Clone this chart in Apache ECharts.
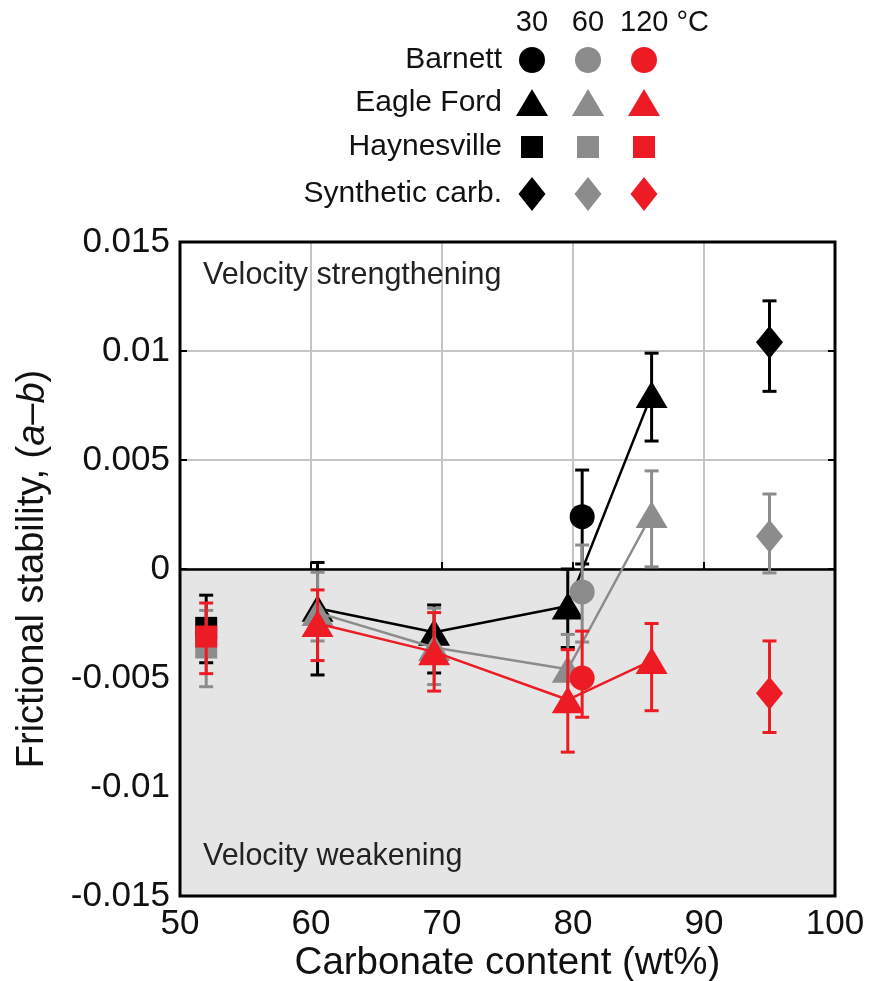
<!DOCTYPE html>
<html>
<head>
<meta charset="utf-8">
<script src="https://cdn.jsdelivr.net/npm/echarts@6/dist/echarts.min.js"></script>
<style>
html,body{margin:0;padding:0;background:#fff;}
#chart{width:869px;height:981px;}
</style>
</head>
<body>
<div id="chart"></div>
<script>
// ---------------- DATA ----------------
const tempLabels = ['30', '60', '120 °C'];
const rockNames = ['Barnett', 'Eagle Ford', 'Haynesville', 'Synthetic carb.'];
const xTickLabels = ['50', '60', '70', '80', '90', '100'];
const yTickLabels = ['-0.015', '-0.01', '-0.005', '0', '0.005', '0.01', '0.015'];

// Barnett
const barnettX = [80.7];
const barnett30 = [0.0024],   barnett30Lo = [0.00023],  barnett30Hi = [0.00454];
const barnett60 = [-0.00105], barnett60Lo = [-0.00335], barnett60Hi = [0.0011];
const barnett120 = [-0.0050], barnett120Lo = [-0.0068], barnett120Hi = [-0.00285];

// Eagle Ford
const eagleFordX = [60.5, 69.4, 79.6, 86.0];
const eagleFord30 = [-0.0018, -0.0029, -0.0017, 0.0080];
const eagleFord30Lo = [-0.00486, -0.00477, -0.0036, 0.00587];
const eagleFord30Hi = [0.0003, -0.00165, 0.0000, 0.0099];
const eagleFord60 = [-0.0020, -0.0036, -0.0046, 0.0025];
const eagleFord60Lo = [-0.0033, -0.0053, -0.0062, 0.0001];
const eagleFord60Hi = [-0.00015, -0.0018, -0.0030, 0.0045];
const eagleFord120 = [-0.0025, -0.0038, -0.0060, -0.0042];
const eagleFord120Lo = [-0.0042, -0.0056, -0.0084, -0.0065];
const eagleFord120Hi = [-0.00096, -0.0020, -0.0037, -0.0025];

// Haynesville
const haynesvilleX = [52.0];
const haynesville30 = [-0.0027],  haynesville30Lo = [-0.0043],  haynesville30Hi = [-0.0012];
const haynesville60 = [-0.0036],  haynesville60Lo = [-0.0054],  haynesville60Hi = [-0.0019];
const haynesville120 = [-0.0031], haynesville120Lo = [-0.0048], haynesville120Hi = [-0.00156];

// Synthetic carbonate
const syntheticX = [95.0];
const synthetic30 = [0.0104],   synthetic30Lo = [0.00815], synthetic30Hi = [0.0123];
const synthetic60 = [0.0015],   synthetic60Lo = [-0.00018], synthetic60Hi = [0.00344];
const synthetic120 = [-0.0057], synthetic120Lo = [-0.0075], synthetic120Hi = [-0.0033];

// ---------------- STYLE ----------------
const FONT = "'Liberation Sans', Arial, Helvetica, sans-serif";
const colors = ['#000000', '#8c8c8c', '#ed1c24'];

function pts(xs, ys, lo, hi) {
  return xs.map((x, i) => [x, ys[i], lo[i], hi[i]]);
}

const groups = [
  { rock: 'Barnett', symbol: 'circle', size: 25, line: false,
    sets: [pts(barnettX, barnett30, barnett30Lo, barnett30Hi),
           pts(barnettX, barnett60, barnett60Lo, barnett60Hi),
           pts(barnettX, barnett120, barnett120Lo, barnett120Hi)] },
  { rock: 'Eagle Ford', symbol: 'triangle', size: [32, 27], line: true,
    sets: [pts(eagleFordX, eagleFord30, eagleFord30Lo, eagleFord30Hi),
           pts(eagleFordX, eagleFord60, eagleFord60Lo, eagleFord60Hi),
           pts(eagleFordX, eagleFord120, eagleFord120Lo, eagleFord120Hi)] },
  { rock: 'Haynesville', symbol: 'rect', size: 22, line: false,
    sets: [pts(haynesvilleX, haynesville30, haynesville30Lo, haynesville30Hi),
           pts(haynesvilleX, haynesville60, haynesville60Lo, haynesville60Hi),
           pts(haynesvilleX, haynesville120, haynesville120Lo, haynesville120Hi)] },
  { rock: 'Synthetic carb.', symbol: 'diamond', size: [27, 33], line: false,
    sets: [pts(syntheticX, synthetic30, synthetic30Lo, synthetic30Hi),
           pts(syntheticX, synthetic60, synthetic60Lo, synthetic60Hi),
           pts(syntheticX, synthetic120, synthetic120Lo, synthetic120Hi)] }
];

function errRender(color) {
  return function (params, api) {
    const x = api.value(0), lo = api.value(2), hi = api.value(3);
    const p1 = api.coord([x, hi]), p2 = api.coord([x, lo]);
    const hw = 7;
    const st = { stroke: color, lineWidth: 3 };
    return {
      type: 'group',
      children: [
        { type: 'line', shape: { x1: p1[0], y1: p1[1], x2: p2[0], y2: p2[1] }, style: st },
        { type: 'line', shape: { x1: p1[0] - hw, y1: p1[1], x2: p1[0] + hw, y2: p1[1] }, style: st },
        { type: 'line', shape: { x1: p2[0] - hw, y1: p2[1], x2: p2[0] + hw, y2: p2[1] }, style: st }
      ]
    };
  };
}

const series = [];
// background shading + zero line
series.push({
  type: 'line', data: [], z: -1, silent: true,
  markArea: {
    silent: true,
    itemStyle: { color: '#e5e5e5' },
    data: [[{ yAxis: -0.015, xAxis: 50 }, { yAxis: 0, xAxis: 100 }]]
  }
});
series.push({
  type: 'line', data: [], z: 2, silent: true,
  markLine: {
    silent: true, symbol: 'none', label: { show: false },
    lineStyle: { color: '#000', width: 2.5, type: 'solid' },
    data: [{ yAxis: 0 }]
  }
});

for (let t = 0; t < 3; t++) {
  const baseZ = 3 + t * 3;
  groups.forEach(g => {
    const d = g.sets[t];
    if (g.line) {
      series.push({
        type: 'line', data: d.map(p => [p[0], p[1]]), z: baseZ, showSymbol: false,
        lineStyle: { color: colors[t], width: 2.5 }, silent: true, animation: false
      });
    }
    series.push({
      type: 'custom', data: d, z: baseZ + 1, renderItem: errRender(colors[t]),
      encode: { x: 0, y: [1, 2, 3] }, silent: true, animation: false
    });
    series.push({
      type: 'scatter', data: d.map(p => [p[0], p[1]]), z: baseZ + 2,
      symbol: g.symbol, symbolSize: g.size,
      itemStyle: { color: colors[t], opacity: 1 }, silent: true, animation: false
    });
  });
}

// ---------------- LEGEND (graphic) ----------------
const legendColX = [532, 588, 644];
const legendRowY = [60, 103, 147, 194];
const graphic = [];
tempLabels.forEach((t, i) => {
  graphic.push({
    type: 'text', x: i < 2 ? legendColX[i] : 620, y: 23,
    style: { text: t, font: "29px " + FONT, fill: '#111',
      textAlign: i < 2 ? 'center' : 'left', textVerticalAlign: 'middle' }
  });
});
rockNames.forEach((r, j) => {
  graphic.push({
    type: 'text', x: 502, y: legendRowY[j],
    style: { text: r, font: "30px " + FONT, fill: '#111', textAlign: 'right', textVerticalAlign: 'middle' }
  });
  legendColX.forEach((cx, i) => {
    const cy = legendRowY[j], c = colors[i];
    if (j === 0) graphic.push({ type: 'circle', shape: { cx: cx, cy: cy, r: 13 }, style: { fill: c } });
    if (j === 1) graphic.push({ type: 'polygon', shape: { points: [[cx, cy - 14], [cx + 16, cy + 13], [cx - 16, cy + 13]] }, style: { fill: c } });
    if (j === 2) graphic.push({ type: 'rect', shape: { x: cx - 11, y: cy - 11, width: 22, height: 22 }, style: { fill: c } });
    if (j === 3) graphic.push({ type: 'polygon', shape: { points: [[cx, cy - 17], [cx + 13.5, cy], [cx, cy + 17], [cx - 13.5, cy]] }, style: { fill: c } });
  });
});
graphic.push({
  type: 'text', x: 203, y: 276,
  style: { text: 'Velocity strengthening', font: "30.5px " + FONT, fill: '#222', textVerticalAlign: 'middle' }, z: 100
});
graphic.push({
  type: 'text', x: 203, y: 857,
  style: { text: 'Velocity weakening', font: "30.5px " + FONT, fill: '#222', textVerticalAlign: 'middle' }, z: 100
});

function yFmt(v) {
  const r = Math.round(v * 1000) / 1000;
  const idx = Math.round((r + 0.015) / 0.005);
  return yTickLabels[idx] !== undefined ? yTickLabels[idx] : String(r);
}
function xFmt(v) {
  const idx = Math.round((v - 50) / 10);
  return xTickLabels[idx] !== undefined ? xTickLabels[idx] : String(v);
}

const splitStyle = { show: true, lineStyle: { color: '#c4c4c4', width: 2 } };
const tickStyle = { show: true, inside: true, length: 7, lineStyle: { color: '#000', width: 2 } };

const option = {
  backgroundColor: '#ffffff',
  animation: false,
  textStyle: { fontFamily: FONT },
  grid: { left: 180, right: 34, top: 242, bottom: 85, containLabel: false, outerBoundsMode: 'none',
    show: true, borderColor: '#000', borderWidth: 3, backgroundColor: 'transparent', z: 50 },
  xAxis: [{
    type: 'value', min: 50, max: 100, interval: 10,
    axisLine: { show: false },
    axisTick: tickStyle,
    splitLine: splitStyle,
    axisLabel: { formatter: xFmt, fontSize: 35, color: '#111', margin: 11, fontFamily: FONT },
    name: 'Carbonate content (wt%)', nameLocation: 'middle', nameGap: 48, nameMoveOverlap: false,
    nameTextStyle: { fontSize: 38.5, color: '#111', fontFamily: FONT }
  }, {
    type: 'value', min: 50, max: 100, interval: 10, position: 'top',
    axisLine: { show: false }, axisTick: tickStyle, splitLine: { show: false }, axisLabel: { show: false }
  }],
  yAxis: [{
    type: 'value', min: -0.015, max: 0.015, interval: 0.005,
    axisLine: { show: false },
    axisTick: tickStyle,
    splitLine: splitStyle,
    axisLabel: { formatter: yFmt, fontSize: 35, color: '#111', margin: 10, fontFamily: FONT },
    name: '{n|Frictional stability, (}{i|a}{n|–}{i|b}{n|)}', nameLocation: 'middle', nameGap: 128, nameMoveOverlap: false,
    nameTextStyle: {
      fontSize: 38, color: '#111', fontFamily: FONT,
      rich: {
        n: { fontSize: 38, color: '#111', fontFamily: FONT },
        i: { fontSize: 38, color: '#111', fontFamily: FONT, fontStyle: 'italic' }
      }
    }
  }, {
    type: 'value', min: -0.015, max: 0.015, interval: 0.005, position: 'right',
    axisLine: { show: false }, axisTick: tickStyle, splitLine: { show: false }, axisLabel: { show: false }
  }],
  graphic: graphic,
  series: series
};

const chart = echarts.init(document.getElementById('chart'), null, { renderer: 'canvas' });
chart.setOption(option);
</script>
</body>
</html>
